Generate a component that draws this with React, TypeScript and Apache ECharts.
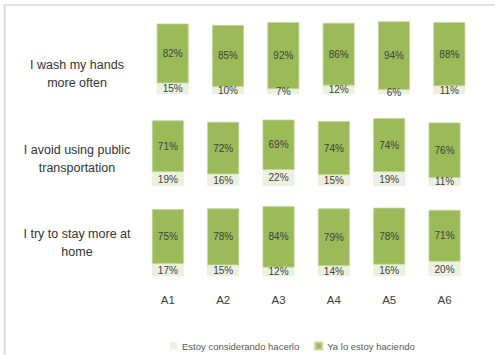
import React, { useEffect, useRef } from "react";
import * as echarts from "echarts";

const columns = ["A1", "A2", "A3", "A4", "A5", "A6"];
const rowLabels = [
  "I wash my hands\nmore often",
  "I avoid using public\ntransportation",
  "I try to stay more at\nhome",
];
const consideringName = "Estoy considerando hacerlo";
const doingName = "Ya lo estoy haciendo";
const considering = [
  [15, 10, 7, 12, 6, 11],
  [19, 16, 22, 15, 19, 11],
  [17, 15, 12, 14, 16, 20],
];
const doing = [
  [82, 85, 92, 86, 94, 88],
  [71, 72, 69, 74, 74, 76],
  [75, 78, 84, 79, 78, 71],
];

const FONT = "'Liberation Sans', Arial, sans-serif";
const GREEN = "#9BBB59";
const LIGHT = "#EBF1DE";

const grids = [
  { left: 145, top: 21.3, width: 332, height: 73 },
  { left: 140.2, top: 113, width: 332, height: 73 },
  { left: 140.2, top: 203.3, width: 332, height: 73 },
];
const labelCenters = [74, 159, 242.5];

export default function App() {
  const ref = useRef<HTMLDivElement>(null);
  useEffect(() => {
    if (!ref.current) return;
    const chart = echarts.init(ref.current, null, { renderer: "svg" });
    const series: any[] = [];
    const labelStyle = {
      show: true,
      position: "inside",
      formatter: "{c}%",
      color: "#404040",
      fontFamily: FONT,
      fontSize: 10,
    };
    rowLabels.forEach((_, i) => {
      series.push({
        name: consideringName,
        type: "bar",
        stack: "s" + i,
        xAxisIndex: i,
        yAxisIndex: i,
        barWidth: 32,
        data: considering[i],
        itemStyle: { color: LIGHT },
        label: labelStyle,
      });
      series.push({
        name: doingName,
        type: "bar",
        stack: "s" + i,
        xAxisIndex: i,
        yAxisIndex: i,
        barWidth: 32,
        data: doing[i],
        itemStyle: { color: GREEN, borderColor: "#C4D79B", borderWidth: 0.8 },
        label: labelStyle,
      });
    });
    const option: any = {
      animation: false,
      backgroundColor: "#fff",
      grid: grids,
      xAxis: grids.map((_, i) => ({
        type: "category",
        gridIndex: i,
        data: columns,
        axisLine: { show: false },
        axisTick: { show: false },
        axisLabel: {
          show: i === 2,
          margin: 18,
          color: "#404040",
          fontFamily: FONT,
          fontSize: 11.5,
        },
      })),
      yAxis: grids.map((_, i) => ({
        type: "value",
        gridIndex: i,
        min: 0,
        max: 100,
        show: false,
      })),
      legend: {
        data: [consideringName, doingName],
        top: 336,
        left: 165,
        itemWidth: 7,
        itemHeight: 7,
        itemGap: 15,
        icon: "rect",
        textStyle: { color: "#595959", fontFamily: FONT, fontSize: 9.5 },
      },
      graphic: [
        {
          type: "line",
          shape: { x1: 4, y1: 5, x2: 495, y2: 5 },
          style: { stroke: "#D9D9D9", lineWidth: 1.5 },
        },
        {
          type: "line",
          shape: { x1: 4.5, y1: 5, x2: 4.5, y2: 355 },
          style: { stroke: "#D9D9D9", lineWidth: 2 },
        },
        ...rowLabels.map((t, i) => ({
          type: "text",
          x: 77,
          y: labelCenters[i],
          style: {
            text: t,
            fill: "#333333",
            font: `12.5px ${FONT}`,
            align: "center",
            verticalAlign: "middle",
            lineHeight: 18,
          },
        })),
      ],
      series,
    };
    chart.setOption(option);
    return () => chart.dispose();
  }, []);
  return (
    <div
      ref={ref}
      style={{ position: "absolute", left: 0, top: 0, width: 495, height: 355 }}
    />
  );
}
